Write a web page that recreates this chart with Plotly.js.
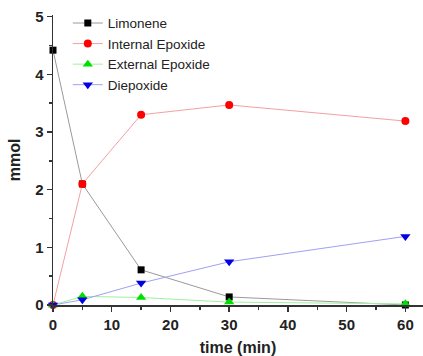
<!DOCTYPE html>
<html><head><meta charset="utf-8">
<script src="https://cdn.plot.ly/plotly-3.0.1.min.js"></script>
<style>html,body{margin:0;padding:0;background:#fff}#c{width:423px;height:356px}</style>
</head><body><div id="c"></div>
<script>
const time = [0, 5, 15, 30, 60];
const limonene = [4.42, 2.1, 0.61, 0.14, 0.0];
const internalEpoxide = [0.0, 2.1, 3.3, 3.47, 3.19];
const externalEpoxide = [0.0, 0.15, 0.13, 0.05, 0.02];
const diepoxide = [0.0, 0.09, 0.38, 0.75, 1.19];

const mk = (name, y, lineColor, markerColor, symbol, size) => ({
  x: time, y: y, name: name, type: 'scatter', mode: 'lines+markers', cliponaxis: false,
  line: {color: lineColor, width: 1},
  marker: {color: markerColor, symbol: symbol, size: size}
});
const data = [
  mk('Limonene', limonene, '#9a9a9a', '#000000', 'square', 7),
  mk('Internal Epoxide', internalEpoxide, '#f4a0a0', '#ff0000', 'circle', 8),
  mk('External Epoxide', externalEpoxide, '#a0f0a0', '#00e000', 'triangle-up', 9),
  mk('Diepoxide', diepoxide, '#a0a0f4', '#0000e0', 'triangle-down', 9)
];
const tickFont = {family: 'Liberation Sans, Arial, sans-serif', size: 15, color: '#222'};
const layout = {
  width: 423, height: 356,
  margin: {l: 53, r: 0, t: 15, b: 51},
  paper_bgcolor: '#fff', plot_bgcolor: '#fff',
  showlegend: true,
  legend: {x: 0.04, y: 1.025, xanchor: 'left', yanchor: 'top', bgcolor: 'rgba(0,0,0,0)',
    font: {family: 'Liberation Sans, Arial, sans-serif', size: 13.5, color: '#222'}, tracegroupgap: 0, itemwidth: 30},
  xaxis: {
    range: [0, 63], tickvals: [0, 10, 20, 30, 40, 50, 60], ticktext: ['<b>0</b>','<b>10</b>','<b>20</b>','<b>30</b>','<b>40</b>','<b>50</b>','<b>60</b>'],
    ticks: 'outside', ticklen: 5, tickwidth: 1.5, tickcolor: '#333',
    minor: {tickvals: [5, 15, 25, 35, 45, 55], ticks: 'outside', ticklen: 3, tickcolor: '#333'},
    showline: true, linecolor: '#333', linewidth: 1.5, showgrid: false, zeroline: false,
    tickfont: tickFont,
    title: {text: '<b>time (min)</b>', font: {family: 'Liberation Sans, Arial, sans-serif', size: 16, color: '#222'}, standoff: 12}
  },
  yaxis: {
    range: [0, 5.03], tickvals: [0, 1, 2, 3, 4, 5], ticktext: ['<b>0</b>','<b>1</b>','<b>2</b>','<b>3</b>','<b>4</b>','<b>5</b>'],
    ticks: 'outside', ticklen: 5, tickwidth: 1.5, tickcolor: '#333',
    minor: {tickvals: [0.5, 1.5, 2.5, 3.5, 4.5], ticks: 'outside', ticklen: 3, tickcolor: '#333'},
    showline: true, linecolor: '#333', linewidth: 1.5, showgrid: false, zeroline: false,
    tickfont: tickFont,
    title: {text: '<b>mmol</b>', font: {family: 'Liberation Sans, Arial, sans-serif', size: 16, color: '#222'}, standoff: 10}
  }
};
Plotly.newPlot('c', data, layout, {displayModeBar: false, staticPlot: true});
</script></body></html>
